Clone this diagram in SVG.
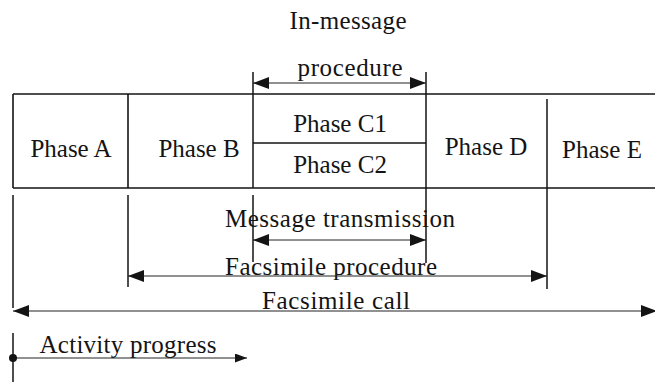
<svg xmlns="http://www.w3.org/2000/svg" width="655" height="382" viewBox="0 0 655 382">
  <style>
    .frame { stroke: #141414; stroke-width: 1.6; fill: none; }
    .tick { stroke: #141414; stroke-width: 1.5; fill: none; }
    .span { stroke: #222; stroke-width: 1; fill: none; }
    .lbl { font-family: 'Liberation Serif', serif; font-size: 25px; fill: #141414; text-anchor: middle; }
  </style>
  <defs>
    <marker id="head" viewBox="0 0 16 12" refX="16" refY="6" markerWidth="16" markerHeight="12" markerUnits="userSpaceOnUse" orient="auto-start-reverse">
      <path d="M0,0 L16,6 L0,12 Z" fill="#141414"/>
    </marker>
    <marker id="headSmall" viewBox="0 0 12 9" refX="12" refY="4.5" markerWidth="12" markerHeight="9" markerUnits="userSpaceOnUse" orient="auto">
      <path d="M0,0 L12,4.5 L0,9 Z" fill="#141414"/>
    </marker>
  </defs>
  <rect width="655" height="382" fill="#fff"/>

  <!-- phase table -->
  <g id="table">
    <path class="frame" d="M13,94 H655 M13,188 H655 M13,94 V188 M128,94 V188 M253,143 H426"/>
  </g>
  <g id="phaseA"><text class="lbl" x="71" y="157">Phase A</text></g>
  <g id="phaseB"><text class="lbl" x="199" y="157">Phase B</text></g>
  <g id="phaseC1"><text class="lbl" x="340" y="132">Phase C1</text></g>
  <g id="phaseC2"><text class="lbl" x="340" y="173">Phase C2</text></g>
  <g id="phaseD"><text class="lbl" x="486" y="155">Phase D</text></g>
  <g id="phaseE"><text class="lbl" x="602" y="158">Phase E</text></g>

  <!-- span labels -->
  <g id="inMessage">
    <text class="lbl" x="348" y="29" textLength="117">In-message</text>
    <text class="lbl" x="350" y="76" textLength="105">procedure</text>
  </g>
  <g id="messageTransmission"><text class="lbl" x="340" y="227" textLength="230">Message transmission</text></g>
  <g id="facsimileProcedure"><text class="lbl" x="331" y="275" textLength="212">Facsimile procedure</text></g>
  <g id="facsimileCall"><text class="lbl" x="336" y="309" textLength="148">Facsimile call</text></g>
  <g id="activity"><text class="lbl" x="128" y="353" textLength="177">Activity progress</text></g>

  <!-- boundary lines and span arrows -->
  <g id="connectors">
    <path class="tick" d="M253,72 V188 M426,72 V263 M547,99 V289 M13,195 V308 M128,195 V287 M253,195 V262 M13,333 V382"/>
    <line class="span" x1="253" y1="83" x2="426" y2="83" marker-start="url(#head)" marker-end="url(#head)"/>
    <line class="span" x1="253" y1="240" x2="426" y2="240" marker-start="url(#head)" marker-end="url(#head)"/>
    <line class="span" x1="128" y1="276" x2="547" y2="276" marker-start="url(#head)" marker-end="url(#head)"/>
    <line class="span" x1="13" y1="311" x2="657" y2="311" marker-start="url(#head)" marker-end="url(#head)"/>
    <line class="span" x1="13" y1="358" x2="247" y2="358" marker-end="url(#headSmall)"/>
    <circle cx="13" cy="358" r="4" fill="#141414"/>
  </g>
</svg>
